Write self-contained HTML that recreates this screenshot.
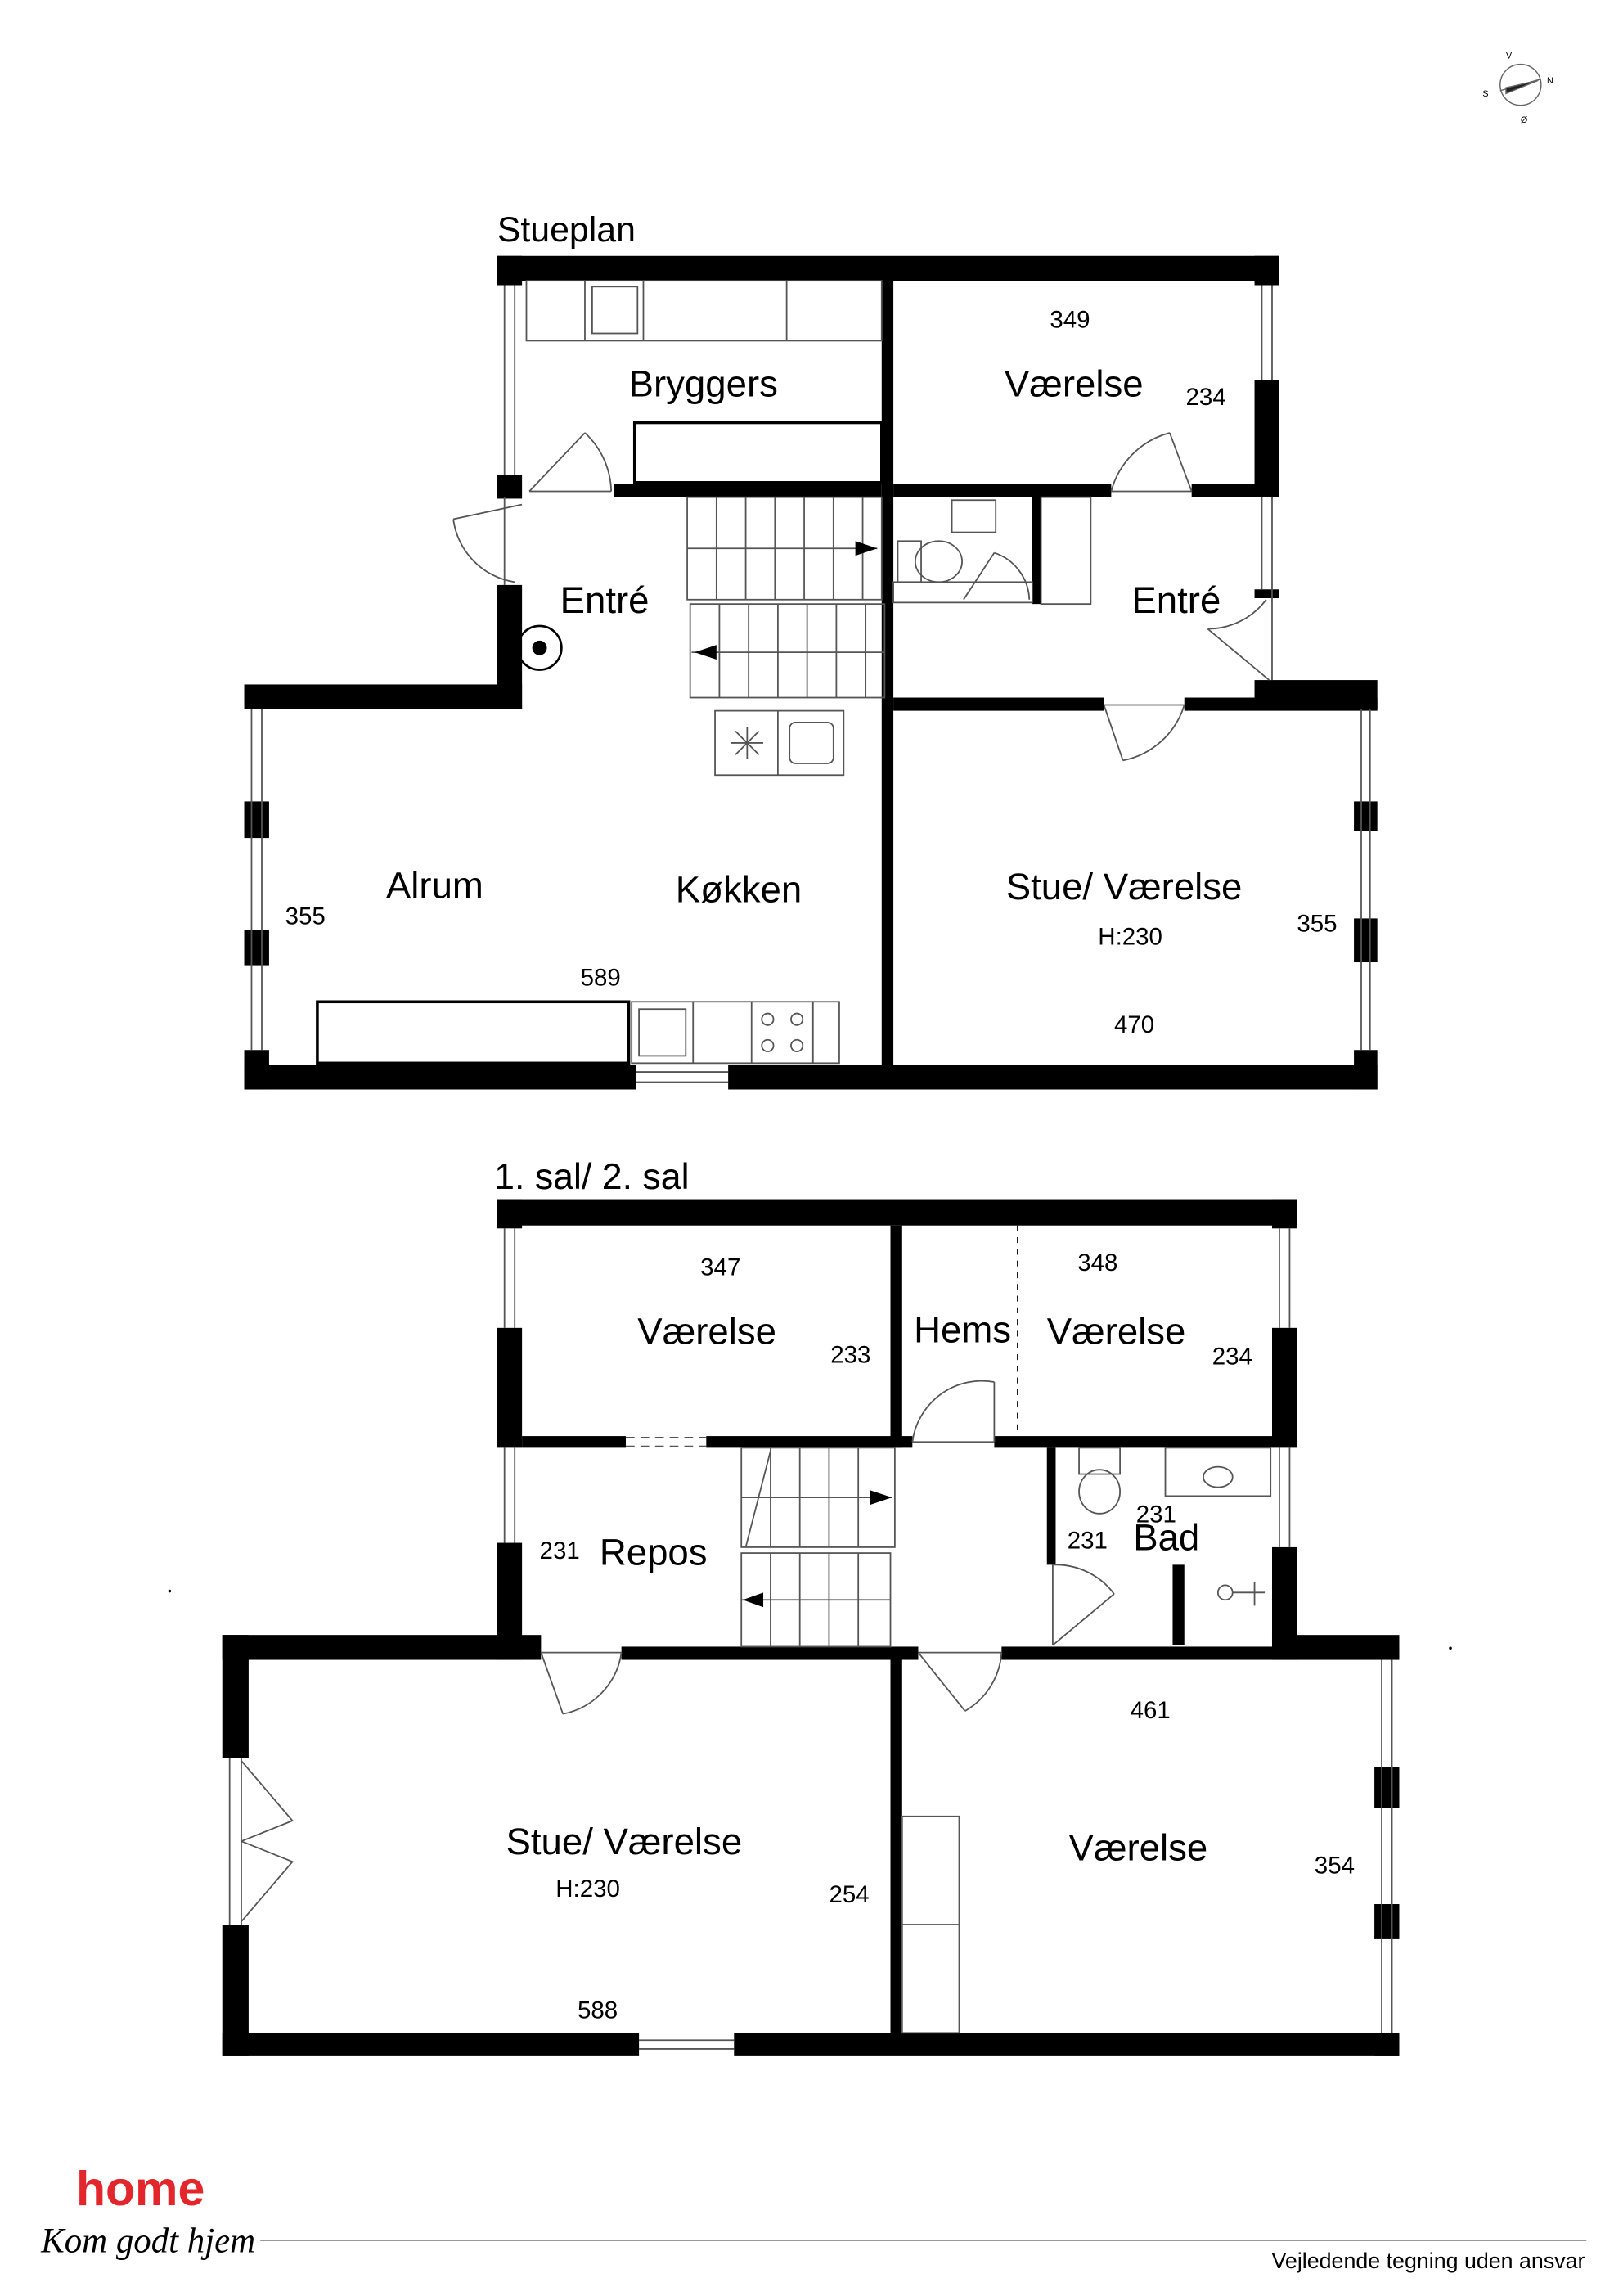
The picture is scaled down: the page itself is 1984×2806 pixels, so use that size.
<!DOCTYPE html>
<html><head><meta charset="utf-8"><style>
html,body{margin:0;padding:0;background:#fff;}
svg{display:block;}
text{font-family:"Liberation Sans",sans-serif;fill:#000;}
</style></head><body>
<svg width="1984" height="2806" viewBox="0 0 1110 1570" xmlns="http://www.w3.org/2000/svg">
<rect width="1110" height="1570" fill="#fff"/>
<g transform="translate(1040,58)" stroke="#666" fill="none" stroke-width="0.8">
<circle r="14"/><path d="M-14,4 L14,-4" /><path d="M-10,6 L12,-3 L-10,2 Z" fill="#222"/>
</g>
<text x="1030" y="40" font-size="6">V</text><text x="1058" y="57" font-size="6">N</text><text x="1014" y="66" font-size="6">S</text><text x="1040" y="84" font-size="6">Ø</text>

<text x="340" y="165" font-size="24">Stueplan</text>
<g fill="#000">
<rect x="340" y="175" width="535" height="17"/>
<rect x="340" y="175" width="17" height="20"/><rect x="340" y="325" width="17" height="16"/>
<rect x="858" y="175" width="17" height="20"/><rect x="858" y="260" width="17" height="80"/>
<rect x="603" y="192" width="8" height="536"/>
<rect x="420" y="331" width="183" height="9"/>
<rect x="611" y="331" width="149" height="9"/>
<rect x="815" y="331" width="60" height="9"/>
<rect x="340" y="400" width="17" height="85"/>
<rect x="167" y="468" width="190" height="17"/>
<rect x="611" y="477" width="144" height="9"/>
<rect x="810" y="477" width="132" height="9"/>
<rect x="858" y="465" width="84" height="20"/>
<rect x="858" y="403" width="17" height="6"/>
<rect x="926" y="548" width="16" height="20"/><rect x="926" y="628" width="16" height="30"/>
<rect x="926" y="718" width="16" height="27"/>
<rect x="167" y="548" width="17" height="25"/><rect x="167" y="636" width="17" height="24"/>
<rect x="167" y="718" width="17" height="27"/>
<rect x="167" y="728" width="268" height="17"/>
<rect x="498" y="728" width="444" height="17"/>
<rect x="706" y="340" width="6" height="73"/>
</g>
<g fill="none" stroke="#555" stroke-width="1">
<line x1="345" y1="195" x2="345" y2="325"/><line x1="352" y1="195" x2="352" y2="325"/>
<line x1="863" y1="195" x2="863" y2="260"/><line x1="870" y1="195" x2="870" y2="260"/>
<line x1="863" y1="340" x2="863" y2="403"/><line x1="870" y1="340" x2="870" y2="465"/>
<line x1="931" y1="485" x2="931" y2="718"/><line x1="937" y1="485" x2="937" y2="718"/>
<line x1="172" y1="485" x2="172" y2="718"/><line x1="179" y1="485" x2="179" y2="718"/>
<line x1="435" y1="733" x2="498" y2="733"/><line x1="435" y1="740" x2="498" y2="740"/>
<line x1="345" y1="340" x2="345" y2="400"/>
<path d="M362,336 L418,336 M362,336 L400,296 M400,296 A56,56 0 0 1 418,336"/>
<path d="M815,336 L760,336 M815,336 L800,296 M800,296 A56,56 0 0 0 760,336"/>
<path d="M357,345 L310,355 M310,355 A50,50 0 0 0 352,398"/>
<path d="M868,465 L826,430 M826,430 A50,50 0 0 0 866,410"/>
<path d="M755,482 L810,482 M755,482 L768,520 M768,520 A55,55 0 0 0 810,482"/>
<rect x="360" y="192" width="243" height="41"/>
<line x1="400" y1="192" x2="400" y2="233"/><line x1="440" y1="192" x2="440" y2="233"/><line x1="538" y1="192" x2="538" y2="233"/>
<rect x="405" y="196" width="31" height="32"/>
<rect x="434" y="289" width="169" height="41" stroke="#000" stroke-width="2"/>
<rect x="470" y="340" width="133" height="70"/>
<rect x="472" y="413" width="133" height="64"/>
<line x1="470" y1="375" x2="600" y2="375"/><line x1="473" y1="446" x2="605" y2="446"/>
<path d="M490,340V410M510,340V410M530,340V410M550,340V410M570,340V410M590,340V410"/>
<path d="M492,413V477M512,413V477M532,413V477M552,413V477M572,413V477M592,413V477"/>
<rect x="651" y="342" width="30" height="22"/>
<rect x="614" y="370" width="16" height="28"/><ellipse cx="642" cy="384" rx="16" ry="14"/>
<rect x="611" y="398" width="95" height="14"/>
<path d="M659,410 L680,378 M680,378 A35,35 0 0 1 704,410"/>
<rect x="712" y="340" width="34" height="73"/>
<rect x="489" y="486" width="88" height="44"/><line x1="532" y1="486" x2="532" y2="530"/>
<rect x="540" y="494" width="30" height="28" rx="4"/>
<path d="M500,508L522,508M511,497L511,519M503,500L519,516M519,500L503,516"/>
<rect x="217" y="685" width="213" height="42" stroke="#000" stroke-width="2"/>
<rect x="432" y="685" width="142" height="42"/><line x1="474" y1="685" x2="474" y2="727"/><line x1="514" y1="685" x2="514" y2="727"/><line x1="556" y1="685" x2="556" y2="727"/>
<rect x="437" y="690" width="32" height="32"/>
<circle cx="525" cy="697" r="4"/><circle cx="545" cy="697" r="4"/><circle cx="525" cy="715" r="4"/><circle cx="545" cy="715" r="4"/>
</g>
<circle cx="369" cy="443" r="15" fill="none" stroke="#000" stroke-width="1.5"/><circle cx="369" cy="443" r="5" fill="#000"/>
<g font-size="25.5">
<text x="430" y="271">Bryggers</text>
<text x="687" y="271">Værelse</text>
<text x="383" y="419">Entré</text>
<text x="774" y="419">Entré</text>
<text x="264" y="614">Alrum</text>
<text x="462" y="617">Køkken</text>
<text x="688" y="615">Stue/ Værelse</text>
</g>
<g font-size="16.5">
<text x="718" y="224">349</text><text x="811" y="277">234</text>
<text x="195" y="632">355</text><text x="397" y="674">589</text>
<text x="751" y="646">H:230</text><text x="887" y="637">355</text><text x="762" y="706">470</text>
</g>

<text x="338" y="813" font-size="25">1. sal/ 2. sal</text>
<g fill="#000">
<rect x="340" y="820" width="547" height="18"/>
<rect x="340" y="820" width="17" height="20"/><rect x="340" y="908" width="17" height="82"/><rect x="340" y="1055" width="17" height="80"/>
<rect x="870" y="820" width="17" height="20"/><rect x="870" y="908" width="17" height="82"/><rect x="870" y="1058" width="17" height="77"/>
<rect x="609" y="838" width="8" height="152"/>
<rect x="609" y="1130" width="8" height="270"/>
<rect x="357" y="982" width="71" height="8"/>
<rect x="483" y="982" width="141" height="8"/>
<rect x="680" y="982" width="190" height="8"/>
<rect x="716" y="990" width="6" height="80"/>
<rect x="802" y="1070" width="8" height="55"/>
<rect x="152" y="1118" width="218" height="17"/>
<rect x="425" y="1126" width="203" height="9"/>
<rect x="685" y="1126" width="272" height="9"/>
<rect x="870" y="1118" width="87" height="17"/>
<rect x="152" y="1118" width="18" height="84"/><rect x="152" y="1316" width="18" height="90"/>
<rect x="940" y="1208" width="17" height="28"/><rect x="940" y="1302" width="17" height="24"/><rect x="940" y="1390" width="17" height="16"/>
<rect x="152" y="1390" width="285" height="16"/>
<rect x="502" y="1390" width="455" height="16"/>
</g>
<g fill="none" stroke="#555" stroke-width="1">
<line x1="345" y1="840" x2="345" y2="908"/><line x1="352" y1="840" x2="352" y2="908"/>
<line x1="345" y1="990" x2="345" y2="1055"/><line x1="352" y1="990" x2="352" y2="1055"/>
<line x1="875" y1="840" x2="875" y2="908"/><line x1="882" y1="840" x2="882" y2="908"/>
<line x1="875" y1="990" x2="875" y2="1058"/><line x1="882" y1="990" x2="882" y2="1058"/>
<line x1="945" y1="1135" x2="945" y2="1390"/><line x1="952" y1="1135" x2="952" y2="1390"/>
<line x1="437" y1="1395" x2="502" y2="1395"/><line x1="437" y1="1401" x2="502" y2="1401"/>
<line x1="157" y1="1202" x2="157" y2="1316"/><line x1="165" y1="1202" x2="165" y2="1316"/>
<path d="M165,1204 L200,1245 L165,1259 M165,1314 L200,1273 L165,1259"/>
<line x1="428" y1="983" x2="483" y2="983" stroke-dasharray="6,4"/><line x1="428" y1="989" x2="483" y2="989" stroke-dasharray="6,4"/>
<line x1="696" y1="838" x2="696" y2="982" stroke="#000" stroke-dasharray="4,4"/>
<path d="M624,986 L680,986 M680,986 L680,945 M680,945 A48,48 0 0 0 624,986"/>
<path d="M370,1130 L425,1130 M370,1130 L385,1172 M385,1172 A50,50 0 0 0 425,1130"/>
<path d="M628,1130 L685,1130 M628,1130 L660,1170 M660,1170 A50,50 0 0 0 685,1130"/>
<path d="M720,1070 L720,1125 M720,1125 L762,1090 M762,1090 A50,50 0 0 0 720,1070"/>
<rect x="507" y="990" width="105" height="68"/>
<rect x="507" y="1062" width="102" height="64"/>
<line x1="507" y1="1024" x2="610" y2="1024"/><line x1="507" y1="1094" x2="609" y2="1094"/>
<path d="M527,990V1058M547,990V1058M567,990V1058M587,990V1058"/>
<path d="M527,1062V1126M547,1062V1126M567,1062V1126M587,1062V1126"/>
<line x1="510" y1="1058" x2="527" y2="992"/>
<rect x="738" y="990" width="28" height="18"/><ellipse cx="752" cy="1020" rx="14" ry="15"/>
<rect x="797" y="990" width="72" height="33"/><ellipse cx="833" cy="1010" rx="10" ry="7"/>
<circle cx="838" cy="1089" r="5"/><path d="M843,1089 L865,1089 M858,1082 L858,1098"/>
<rect x="617" y="1242" width="39" height="148"/><line x1="617" y1="1316" x2="656" y2="1316"/>
</g>
<g fill="#000">
<path d="M585,370 L600,375 L585,380Z"/><path d="M490,441 L475,446 L490,451Z"/>
<path d="M595,1019 L610,1024 L595,1029Z"/><path d="M522,1089 L508,1094 L522,1099Z"/>
</g>
<g font-size="25.5">
<text x="436" y="919">Værelse</text>
<text x="625" y="918">Hems</text>
<text x="716" y="919">Værelse</text>
<text x="410" y="1070">Repos</text>
<text x="775" y="1060">Bad</text>
<text x="346" y="1268">Stue/ Værelse</text>
<text x="731" y="1272">Værelse</text>
</g>
<g font-size="16.5">
<text x="479" y="872">347</text><text x="568" y="932">233</text>
<text x="737" y="869">348</text><text x="829" y="933">234</text>
<text x="369" y="1066">231</text><text x="730" y="1059">231</text><text x="777" y="1041">231</text>
<text x="380" y="1297">H:230</text><text x="567" y="1301">254</text><text x="395" y="1380">588</text>
<text x="773" y="1175">461</text><text x="899" y="1281">354</text>
</g>
<circle cx="116" cy="1088" r="1" fill="#000"/><circle cx="992" cy="1127" r="1" fill="#000"/>

<text x="52" y="1508" font-size="33" font-weight="bold" style="fill:#e3262b">home</text>
<text x="28" y="1540" font-size="24" font-style="italic" style="font-family:'Liberation Serif',serif">Kom godt hjem</text>
<line x1="178" y1="1532" x2="1085" y2="1532" stroke="#999" stroke-width="1"/>
<text x="1084" y="1551" font-size="15" text-anchor="end">Vejledende tegning uden ansvar</text>
</svg>
</body></html>
